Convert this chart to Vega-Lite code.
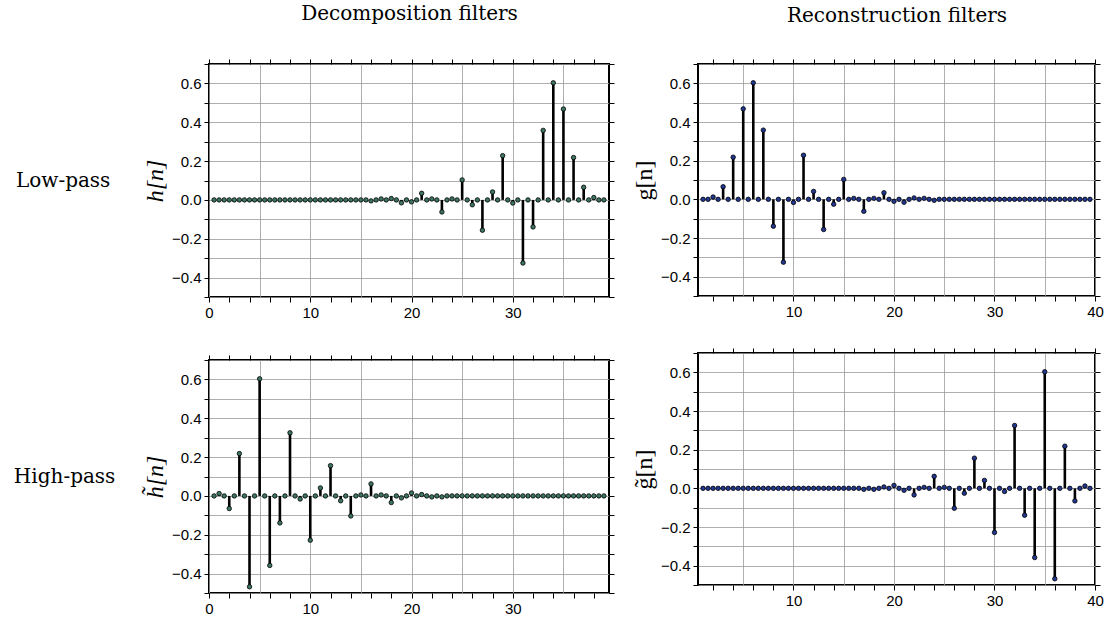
{
  "$schema": "https://vega.github.io/schema/vega-lite/v6.json",
  "background": "white",
  "padding": {"left": 12, "top": 2, "right": 5, "bottom": 5},
  "datasets": {
    "left": [
      {"n":0.5,"h":0,"ht":0},{"n":1,"h":0,"ht":0.012},{"n":1.5,"h":0,"ht":0},{"n":2,"h":0,"ht":-0.065},
      {"n":2.5,"h":0,"ht":0},{"n":3,"h":0,"ht":0.218},{"n":3.5,"h":0,"ht":0},{"n":4,"h":0,"ht":-0.468},
      {"n":4.5,"h":0,"ht":0},{"n":5,"h":0,"ht":0.603},{"n":5.5,"h":0,"ht":0},{"n":6,"h":0,"ht":-0.358},
      {"n":6.5,"h":0,"ht":0},{"n":7,"h":0,"ht":-0.139},{"n":7.5,"h":0,"ht":0},{"n":8,"h":0,"ht":0.325},
      {"n":8.5,"h":0,"ht":0},{"n":9,"h":0,"ht":-0.016},{"n":9.5,"h":0,"ht":0},{"n":10,"h":0,"ht":-0.228},
      {"n":10.5,"h":0,"ht":0},{"n":11,"h":0,"ht":0.041},{"n":11.5,"h":0,"ht":0},{"n":12,"h":0,"ht":0.156},
      {"n":12.5,"h":0,"ht":0},{"n":13,"h":0,"ht":-0.025},{"n":13.5,"h":0,"ht":0},{"n":14,"h":0,"ht":-0.103},
      {"n":14.5,"h":0,"ht":0},{"n":15,"h":0,"ht":0.005},{"n":15.5,"h":0,"ht":0},{"n":16,"h":-0.005,"ht":0.062},
      {"n":16.5,"h":0,"ht":0},{"n":17,"h":0.005,"ht":0.005},{"n":17.5,"h":0,"ht":0},{"n":18,"h":0.007,"ht":-0.034},
      {"n":18.5,"h":0,"ht":0},{"n":19,"h":-0.015,"ht":-0.01},{"n":19.5,"h":0,"ht":0},{"n":20,"h":-0.01,"ht":0.015},
      {"n":20.5,"h":0,"ht":0},{"n":21,"h":0.034,"ht":0.007},{"n":21.5,"h":0,"ht":0},{"n":22,"h":0.005,"ht":-0.005},
      {"n":22.5,"h":0,"ht":0},{"n":23,"h":-0.062,"ht":-0.005},{"n":23.5,"h":0,"ht":0},{"n":24,"h":0.005,"ht":0},
      {"n":24.5,"h":0,"ht":0},{"n":25,"h":0.103,"ht":0},{"n":25.5,"h":0,"ht":0},{"n":26,"h":-0.025,"ht":0},
      {"n":26.5,"h":0,"ht":0},{"n":27,"h":-0.156,"ht":0},{"n":27.5,"h":0,"ht":0},{"n":28,"h":0.041,"ht":0},
      {"n":28.5,"h":0,"ht":0},{"n":29,"h":0.228,"ht":0},{"n":29.5,"h":0,"ht":0},{"n":30,"h":-0.016,"ht":0},
      {"n":30.5,"h":0,"ht":0},{"n":31,"h":-0.325,"ht":0},{"n":31.5,"h":0,"ht":0},{"n":32,"h":-0.139,"ht":0},
      {"n":32.5,"h":0,"ht":0},{"n":33,"h":0.358,"ht":0},{"n":33.5,"h":0,"ht":0},{"n":34,"h":0.603,"ht":0},
      {"n":34.5,"h":0,"ht":0},{"n":35,"h":0.468,"ht":0},{"n":35.5,"h":0,"ht":0},{"n":36,"h":0.218,"ht":0},
      {"n":36.5,"h":0,"ht":0},{"n":37,"h":0.065,"ht":0},{"n":37.5,"h":0,"ht":0},{"n":38,"h":0.012,"ht":0},
      {"n":38.5,"h":0,"ht":0},{"n":39,"h":0,"ht":0}
    ],
    "right": [
      {"n":1,"g":0,"gt":0},{"n":1.5,"g":0,"gt":0},{"n":2,"g":0.012,"gt":0},{"n":2.5,"g":0,"gt":0},
      {"n":3,"g":0.065,"gt":0},{"n":3.5,"g":0,"gt":0},{"n":4,"g":0.218,"gt":0},{"n":4.5,"g":0,"gt":0},
      {"n":5,"g":0.468,"gt":0},{"n":5.5,"g":0,"gt":0},{"n":6,"g":0.603,"gt":0},{"n":6.5,"g":0,"gt":0},
      {"n":7,"g":0.358,"gt":0},{"n":7.5,"g":0,"gt":0},{"n":8,"g":-0.139,"gt":0},{"n":8.5,"g":0,"gt":0},
      {"n":9,"g":-0.325,"gt":0},{"n":9.5,"g":0,"gt":0},{"n":10,"g":-0.016,"gt":0},{"n":10.5,"g":0,"gt":0},
      {"n":11,"g":0.228,"gt":0},{"n":11.5,"g":0,"gt":0},{"n":12,"g":0.041,"gt":0},{"n":12.5,"g":0,"gt":0},
      {"n":13,"g":-0.156,"gt":0},{"n":13.5,"g":0,"gt":0},{"n":14,"g":-0.025,"gt":0},{"n":14.5,"g":0,"gt":0},
      {"n":15,"g":0.103,"gt":0},{"n":15.5,"g":0,"gt":0},{"n":16,"g":0.005,"gt":0},{"n":16.5,"g":0,"gt":0},
      {"n":17,"g":-0.062,"gt":-0.005},{"n":17.5,"g":0,"gt":0},{"n":18,"g":0.005,"gt":-0.005},{"n":18.5,"g":0,"gt":0},
      {"n":19,"g":0.034,"gt":0.007},{"n":19.5,"g":0,"gt":0},{"n":20,"g":-0.01,"gt":0.015},{"n":20.5,"g":0,"gt":0},
      {"n":21,"g":-0.015,"gt":-0.01},{"n":21.5,"g":0,"gt":0},{"n":22,"g":0.007,"gt":-0.034},{"n":22.5,"g":0,"gt":0},
      {"n":23,"g":0.005,"gt":0.005},{"n":23.5,"g":0,"gt":0},{"n":24,"g":-0.005,"gt":0.062},{"n":24.5,"g":0,"gt":0},
      {"n":25,"g":0,"gt":0.005},{"n":25.5,"g":0,"gt":0},{"n":26,"g":0,"gt":-0.103},{"n":26.5,"g":0,"gt":0},
      {"n":27,"g":0,"gt":-0.025},{"n":27.5,"g":0,"gt":0},{"n":28,"g":0,"gt":0.156},{"n":28.5,"g":0,"gt":0},
      {"n":29,"g":0,"gt":0.041},{"n":29.5,"g":0,"gt":0},{"n":30,"g":0,"gt":-0.228},{"n":30.5,"g":0,"gt":0},
      {"n":31,"g":0,"gt":-0.016},{"n":31.5,"g":0,"gt":0},{"n":32,"g":0,"gt":0.325},{"n":32.5,"g":0,"gt":0},
      {"n":33,"g":0,"gt":-0.139},{"n":33.5,"g":0,"gt":0},{"n":34,"g":0,"gt":-0.358},{"n":34.5,"g":0,"gt":0},
      {"n":35,"g":0,"gt":0.603},{"n":35.5,"g":0,"gt":0},{"n":36,"g":0,"gt":-0.468},{"n":36.5,"g":0,"gt":0},
      {"n":37,"g":0,"gt":0.218},{"n":37.5,"g":0,"gt":0},{"n":38,"g":0,"gt":-0.065},{"n":38.5,"g":0,"gt":0},
      {"n":39,"g":0,"gt":0.012},{"n":39.5,"g":0,"gt":0}
    ]
  },
  "config": {
    "view": {"stroke": "black", "strokeWidth": 2},
    "axis": {
      "domain": false,
      "tickColor": "black", "tickSize": 5, "tickWidth": 1,
      "labelFont": "Liberation Sans", "labelFontSize": 15, "labelColor": "black", "labelPadding": 3,
      "labelOverlap": false, "labelFlush": false, "labelBound": false,
      "gridColor": "#9a9a9a", "gridWidth": 0.8,
      "titleColor": "black", "titleFontWeight": "normal"
    },
    "title": {"font": "DejaVu Serif", "fontSize": 20, "fontWeight": "normal", "color": "black"}
  },
  "spacing": 15,
  "hconcat": [
    {
      "spacing": 31,
      "vconcat": [
        {
          "width": 400, "height": 233,
          "title": {"text": "Low-pass", "orient": "left", "angle": 0, "align": "left", "baseline": "middle", "frame": "group", "offset": 33, "anchor": "middle"},
          "data": {"name": "left"},
          "layer": [
            {"mark": {"type": "rule", "color": "black", "strokeWidth": 2.6},
             "encoding": {
               "x": {"field": "n", "type": "quantitative", "scale": {"domain": [0, 39.5], "nice": false, "zero": false},
                     "axis": {"orient": "bottom", "title": null, "values": [0,2,4,5,6,8,10,12,14,15,16,18,20,22,24,25,26,28,30,32,34,35,36,38],
                              "grid": true, "gridOpacity": {"condition": {"test": "datum.value % 5 === 0", "value": 1}, "value": 0},
                              "tickOpacity": {"condition": {"test": "datum.value % 2 === 0", "value": 1}, "value": 0},
                              "labelExpr": "datum.value % 10 === 0 ? format(datum.value, 'd') : ''"}},
               "y": {"field": "h", "type": "quantitative", "scale": {"domain": [-0.5, 0.7], "nice": false, "zero": false},
                     "axis": {"orient": "left", "values": [-0.5,-0.4,-0.3,-0.2,-0.1,0,0.1,0.2,0.3,0.4,0.5,0.6,0.7], "grid": true,
                              "labelExpr": "abs(round(datum.value*10)) % 2 === 0 ? format(datum.value, '.1f') : ''",
                              "title": "h[n]", "titleFont": "Liberation Serif", "titleFontStyle": "italic", "titleFontSize": 24, "titlePadding": 4}},
               "y2": {"datum": 0}
             }},
            {"mark": {"type": "circle", "fill": "#3d7463", "stroke": "black", "strokeWidth": 0.8, "size": 20, "opacity": 1},
             "encoding": {
               "x": {"field": "n", "type": "quantitative",
                     "axis": {"orient": "top", "values": [0,2,4,6,8,10,12,14,16,18,20,22,24,26,28,30,32,34,36,38], "labels": false, "grid": false,
                              "title": "Decomposition filters", "titleFont": "DejaVu Serif", "titleFontSize": 20, "titlePadding": 35}},
               "y": {"field": "h", "type": "quantitative",
                     "axis": {"orient": "right", "values": [-0.5,-0.4,-0.3,-0.2,-0.1,0,0.1,0.2,0.3,0.4,0.5,0.6,0.7], "labels": false, "grid": false, "title": null}}
             }}
          ]
        },
        {
          "width": 400, "height": 233,
          "title": {"text": "High-pass", "orient": "left", "angle": 0, "align": "left", "baseline": "middle", "frame": "group", "offset": 28, "anchor": "middle"},
          "data": {"name": "left"},
          "layer": [
            {"mark": {"type": "rule", "color": "black", "strokeWidth": 2.6},
             "encoding": {
               "x": {"field": "n", "type": "quantitative", "scale": {"domain": [0, 39.5], "nice": false, "zero": false},
                     "axis": {"orient": "bottom", "title": null, "values": [0,2,4,5,6,8,10,12,14,15,16,18,20,22,24,25,26,28,30,32,34,35,36,38],
                              "grid": true, "gridOpacity": {"condition": {"test": "datum.value % 5 === 0", "value": 1}, "value": 0},
                              "tickOpacity": {"condition": {"test": "datum.value % 2 === 0", "value": 1}, "value": 0},
                              "labelExpr": "datum.value % 10 === 0 ? format(datum.value, 'd') : ''"}},
               "y": {"field": "ht", "type": "quantitative", "scale": {"domain": [-0.5, 0.7], "nice": false, "zero": false},
                     "axis": {"orient": "left", "values": [-0.5,-0.4,-0.3,-0.2,-0.1,0,0.1,0.2,0.3,0.4,0.5,0.6,0.7], "grid": true,
                              "labelExpr": "abs(round(datum.value*10)) % 2 === 0 ? format(datum.value, '.1f') : ''",
                              "title": "h̃[n]", "titleFont": "Liberation Serif", "titleFontStyle": "italic", "titleFontSize": 24, "titlePadding": 4}},
               "y2": {"datum": 0}
             }},
            {"mark": {"type": "circle", "fill": "#3d7463", "stroke": "black", "strokeWidth": 0.8, "size": 20, "opacity": 1},
             "encoding": {
               "x": {"field": "n", "type": "quantitative",
                     "axis": {"orient": "top", "values": [0,2,4,6,8,10,12,14,16,18,20,22,24,26,28,30,32,34,36,38], "labels": false, "grid": false, "title": null}},
               "y": {"field": "ht", "type": "quantitative",
                     "axis": {"orient": "right", "values": [-0.5,-0.4,-0.3,-0.2,-0.1,0,0.1,0.2,0.3,0.4,0.5,0.6,0.7], "labels": false, "grid": false, "title": null}}
             }}
          ]
        }
      ]
    },
    {
      "spacing": 25,
      "vconcat": [
        {
          "width": 397, "height": 232,
          "data": {"name": "right"},
          "layer": [
            {"mark": {"type": "rule", "color": "black", "strokeWidth": 2.6},
             "encoding": {
               "x": {"field": "n", "type": "quantitative", "scale": {"domain": [0.5, 40], "nice": false, "zero": false},
                     "axis": {"orient": "bottom", "title": null, "values": [2,4,5,6,8,10,12,14,15,16,18,20,22,24,25,26,28,30,32,34,35,36,38,40],
                              "grid": true, "gridOpacity": {"condition": {"test": "datum.value % 5 === 0", "value": 1}, "value": 0},
                              "tickOpacity": {"condition": {"test": "datum.value % 2 === 0", "value": 1}, "value": 0},
                              "labelExpr": "datum.value % 10 === 0 ? format(datum.value, 'd') : ''"}},
               "y": {"field": "g", "type": "quantitative", "scale": {"domain": [-0.5, 0.7], "nice": false, "zero": false},
                     "axis": {"orient": "left", "values": [-0.5,-0.4,-0.3,-0.2,-0.1,0,0.1,0.2,0.3,0.4,0.5,0.6,0.7], "grid": true,
                              "labelExpr": "abs(round(datum.value*10)) % 2 === 0 ? format(datum.value, '.1f') : ''",
                              "title": "g[n]", "titleFont": "Liberation Serif", "titleFontStyle": "normal", "titleFontSize": 24, "titlePadding": 4}},
               "y2": {"datum": 0}
             }},
            {"mark": {"type": "circle", "fill": "#22378f", "stroke": "black", "strokeWidth": 0.8, "size": 20, "opacity": 1},
             "encoding": {
               "x": {"field": "n", "type": "quantitative",
                     "axis": {"orient": "top", "values": [2,4,6,8,10,12,14,16,18,20,22,24,26,28,30,32,34,36,38,40], "labels": false, "grid": false,
                              "title": "Reconstruction filters", "titleFont": "DejaVu Serif", "titleFontSize": 20, "titlePadding": 33}},
               "y": {"field": "g", "type": "quantitative",
                     "axis": {"orient": "right", "values": [-0.5,-0.4,-0.3,-0.2,-0.1,0,0.1,0.2,0.3,0.4,0.5,0.6,0.7], "labels": false, "grid": false, "title": null}}
             }}
          ]
        },
        {
          "width": 397, "height": 232,
          "data": {"name": "right"},
          "layer": [
            {"mark": {"type": "rule", "color": "black", "strokeWidth": 2.6},
             "encoding": {
               "x": {"field": "n", "type": "quantitative", "scale": {"domain": [0.5, 40], "nice": false, "zero": false},
                     "axis": {"orient": "bottom", "title": null, "values": [2,4,5,6,8,10,12,14,15,16,18,20,22,24,25,26,28,30,32,34,35,36,38,40],
                              "grid": true, "gridOpacity": {"condition": {"test": "datum.value % 5 === 0", "value": 1}, "value": 0},
                              "tickOpacity": {"condition": {"test": "datum.value % 2 === 0", "value": 1}, "value": 0},
                              "labelExpr": "datum.value % 10 === 0 ? format(datum.value, 'd') : ''"}},
               "y": {"field": "gt", "type": "quantitative", "scale": {"domain": [-0.5, 0.7], "nice": false, "zero": false},
                     "axis": {"orient": "left", "values": [-0.5,-0.4,-0.3,-0.2,-0.1,0,0.1,0.2,0.3,0.4,0.5,0.6,0.7], "grid": true,
                              "labelExpr": "abs(round(datum.value*10)) % 2 === 0 ? format(datum.value, '.1f') : ''",
                              "title": "g̃[n]", "titleFont": "Liberation Serif", "titleFontStyle": "normal", "titleFontSize": 24, "titlePadding": 4}},
               "y2": {"datum": 0}
             }},
            {"mark": {"type": "circle", "fill": "#22378f", "stroke": "black", "strokeWidth": 0.8, "size": 20, "opacity": 1},
             "encoding": {
               "x": {"field": "n", "type": "quantitative",
                     "axis": {"orient": "top", "values": [2,4,6,8,10,12,14,16,18,20,22,24,26,28,30,32,34,36,38,40], "labels": false, "grid": false, "title": null}},
               "y": {"field": "gt", "type": "quantitative",
                     "axis": {"orient": "right", "values": [-0.5,-0.4,-0.3,-0.2,-0.1,0,0.1,0.2,0.3,0.4,0.5,0.6,0.7], "labels": false, "grid": false, "title": null}}
             }}
          ]
        }
      ]
    }
  ]
}
